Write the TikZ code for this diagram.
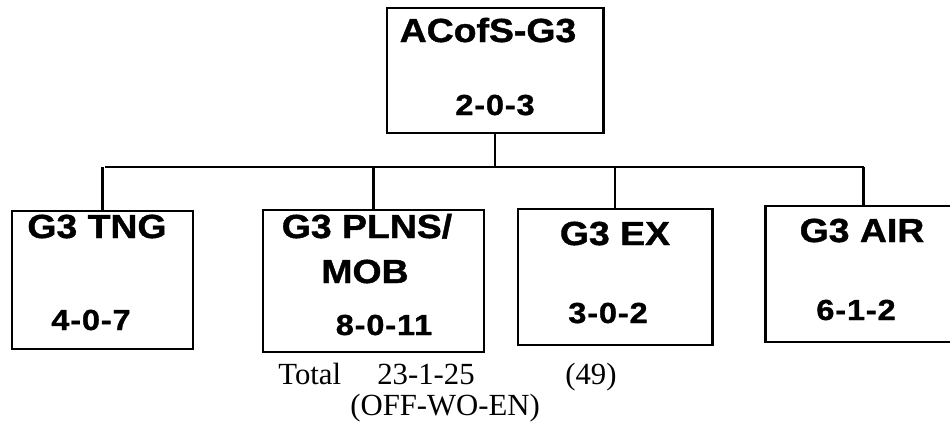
\documentclass[tikz,border=0pt]{standalone}
\usepackage{fontspec}
\setmainfont{Liberation Serif}
\newfontfamily\orgfont[FakeStretch=1.12, BoldFeatures={FakeBold=1.2}]{Liberation Sans}
\usetikzlibrary{fit, positioning}
\tikzset{
  unit/.style  ={draw, line width=1.7pt, inner sep=0pt},          % staff section box
  link/.style  ={line width=1.2pt},                                % tree connector
  ttl/.style   ={anchor=base, inner sep=0pt, font=\orgfont\bfseries\fontsize{19}{22}\selectfont},
  num/.style   ={anchor=base, inner sep=0pt, font=\orgfont\bfseries\fontsize{16.5}{19}\selectfont\addfontfeature{LetterSpace=3}},
  note/.style  ={anchor=base west, inner sep=0pt, font=\fontsize{17.5}{20}\selectfont},
}
\begin{document}
\begin{tikzpicture}[x=0.02cm, y=-0.02cm]
  \clip (0,0) rectangle (950,436);

  % boxes
  \node[unit, fit={(387,8) (603,133)}]   (top)  {};
  \node[unit, fit={(12,211) (193,349)}]  (tng)  {};
  \node[unit, fit={(263,210) (484,352)}] (plns) {};
  \node[unit, fit={(518,209) (712,345)}] (ex)   {};
  \node[unit, fit={(765,206) (962,342)}] (air)  {};

  % box texts
  \node[ttl] (topT)  at (488,42)  {ACofS-G3};
  \node[num] (topN)  at (495,115) {2-0-3};
  \node[ttl] (tngT)  at (97,238)  {G3 TNG};
  \node[num] (tngN)  at (91,330)  {4-0-7};
  \node[ttl] (plnsT) at (367,238) {G3 PLNS/};
  \node[ttl] (plnsM) at (365,283) {MOB};
  \node[num] (plnsN) at (384,335) {8-0-11};
  \node[ttl] (exT)   at (615,245) {G3 EX};
  \node[num] (exN)   at (608,323) {3-0-2};
  \node[ttl] (airT)  at (862,242) {G3 AIR};
  \node[num] (airN)  at (856,320) {6-1-2};

  % connectors
  \coordinate (busL) at (105,167);
  \coordinate (busR) at (864,167);
  \draw[link] (top.south) -- (top.south |- busL);
  \draw[link] (busL) -- (busR);
  \foreach \n in {tng, plns, ex, air}
    \draw[link] (\n.north) -- (\n.north |- busL);

  % totals
  \node[note] (tot)  at (278,384) {Total};
  \node[note] (totN) at (377,384) {23-1-25};
  \node[note] (sum)  at (565,384) {(49)};
  \node[note] (key)  at (350,415) {(OFF-WO-EN)};
\end{tikzpicture}
\end{document}
